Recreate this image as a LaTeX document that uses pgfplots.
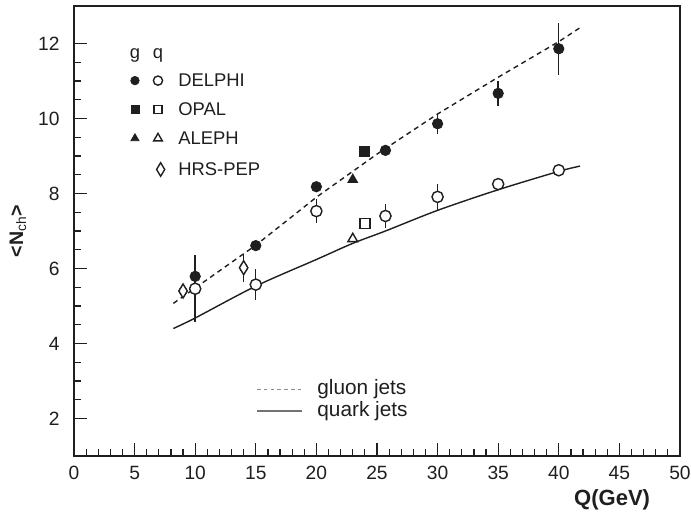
\documentclass[border=0pt]{standalone}
\usepackage{fontspec}
\setmainfont{Liberation Sans}
\usepackage{pgfplots}
\pgfplotsset{compat=1.18}
\definecolor{ink}{gray}{0.12}
\begin{document}
\begin{tikzpicture}
\begin{axis}[
  scale only axis, width=303pt, height=225pt,
  xmin=0, xmax=50, ymin=1, ymax=13,
  xtick={0,5,...,50}, ytick={2,4,...,12},
  minor x tick num=4, minor y tick num=3,
  tick align=inside, tick pos=left,
  major tick length=6.5pt, minor tick length=3.5pt,
  axis line style={line width=1.1pt, ink},
  every tick/.style={ink, line width=0.6pt},
  tick label style={font=\fontsize{9.6}{10}\selectfont, text=ink, inner sep=0pt},
  /pgf/number format/assume math mode=true,
  xticklabel style={yshift=-5pt},
  yticklabel style={xshift=-7pt},
  clip=false,
  xlabel={\textbf{Q(GeV)}},
  ylabel={\textbf{<N}\textsubscript{ch}\textbf{>}},
  xlabel style={at={(axis description cs:0.888,-0.098)}, anchor=center, inner sep=0pt, font=\fontsize{11}{12}\selectfont, text=ink},
  ylabel style={at={(axis description cs:-0.0924,0.5)}, anchor=center, inner sep=0pt, font=\fontsize{9.8}{10}\selectfont, text=ink},
  error bars/error bar style={line width=0.7pt, draw=ink},
]
% invisible frame for the page size
\path (axis description cs:-0.1221,-0.1467) rectangle (axis description cs:1.0182,1.0133);

% theory curves
\addplot[ink, line width=0.7pt, dash pattern=on 2.5pt off 2pt] coordinates {
 (8.2,5.07)(15,6.62)(20,7.9)(25,9.05)(30,10.12)(35,11.1)(40,12.05)(41.75,12.42)};
\addplot[ink, line width=0.7pt, smooth] coordinates {
 (8.2,4.4)(10,4.68)(15,5.53)(20,6.24)(23,6.67)(25.7,7.0)(30,7.55)(35,8.1)(40,8.59)(41.75,8.73)};

% error bars first (drawn under the marks)
\addplot[only marks, mark=none, error bars/.cd, y dir=both, y explicit, error mark=none] coordinates {
 (10,5.46) +- (0,0.9)
 (15,5.57) +- (0,0.42)
 (20,7.53) +- (0,0.33)
 (25.7,7.40) +- (0,0.32)
 (30,7.91) +- (0,0.35)
 (35,8.25) +- (0,0.0)
 (40,8.62) +- (0,0.1)};
\addplot[only marks, mark=none, error bars/.cd, y dir=both, y explicit, error mark=none] coordinates {
 (10,5.79) +- (0,0.55)
 (15,6.61) +- (0,0.0)
 (20,8.18) +- (0,0.0)
 (25.7,9.15) +- (0,0.0)
 (30,9.86) +- (0,0.27)
 (35,10.67) +- (0,0.34)
 (40,11.86) +- (0,0.69)};
\addplot[only marks, mark=none, error bars/.cd, y dir=both, y explicit, error mark=none] coordinates {
 (9,5.40) +- (0,0.0)
 (14,6.02) +- (0,0.37)};

% DELPHI quark (open circles)
\addplot[only marks, mark=*, mark size=2.8pt, mark options={fill=white, draw=ink, line width=0.7pt}] coordinates {
 (10,5.46) (15,5.57) (20,7.53) (25.7,7.40) (30,7.91) (35,8.25) (40,8.62)};
% DELPHI gluon (filled circles)
\addplot[only marks, mark=*, mark size=2.6pt, mark options={fill=ink, draw=ink}] coordinates {
 (10,5.79) (15,6.61) (20,8.18) (25.7,9.15) (30,9.86) (35,10.67) (40,11.86)};
% OPAL
\addplot[only marks, mark=square*, mark size=2.5pt, mark options={fill=ink, draw=ink}] coordinates {(24,9.12)};
\addplot[only marks, mark=square*, mark size=2.5pt, mark options={fill=white, draw=ink, line width=0.7pt}] coordinates {(24,7.2)};
% ALEPH
\addplot[only marks, mark=triangle*, mark size=2.8pt, mark options={fill=ink, draw=ink}] coordinates {(23,8.37)};
\addplot[only marks, mark=triangle*, mark size=2.8pt, mark options={fill=white, draw=ink, line width=0.7pt}] coordinates {(23,6.79)};
% HRS-PEP
\addplot[only marks, mark=diamond*, mark size=3.5pt, mark options={fill=white, draw=ink, line width=0.7pt, xscale=0.8}] coordinates {
 (9,5.40) (14,6.02)};

% legend (top left)
\node[anchor=mid, inner sep=0pt, font=\fontsize{9.2}{10}\selectfont, text=ink] at (axis cs:5.03,11.75) {g};
\node[anchor=mid, inner sep=0pt, font=\fontsize{9.2}{10}\selectfont, text=ink] at (axis cs:6.93,11.75) {q};
\addplot[only marks, mark=*, mark size=2.1pt, mark options={fill=ink, draw=ink}] coordinates {(5.03,11.01)};
\addplot[only marks, mark=*, mark size=2.3pt, mark options={fill=white, draw=ink, line width=0.7pt}] coordinates {(6.93,11.01)};
\addplot[only marks, mark=square*, mark size=2.0pt, mark options={fill=ink, draw=ink}] coordinates {(5.03,10.24)};
\addplot[only marks, mark=square*, mark size=2.0pt, mark options={fill=white, draw=ink, line width=0.7pt}] coordinates {(6.93,10.24)};
\addplot[only marks, mark=triangle*, mark size=2.3pt, mark options={fill=ink, draw=ink}] coordinates {(5.03,9.47)};
\addplot[only marks, mark=triangle*, mark size=2.5pt, mark options={fill=white, draw=ink, line width=0.7pt}] coordinates {(6.93,9.47)};
\addplot[only marks, mark=diamond*, mark size=3.4pt, mark options={fill=white, draw=ink, line width=0.7pt, xscale=0.8}] coordinates {(7.15,8.64)};
\node[anchor=west, inner sep=0pt, font=\fontsize{9.2}{10}\selectfont, text=ink] at (axis cs:8.58,11.01) {DELPHI};
\node[anchor=west, inner sep=0pt, font=\fontsize{9.2}{10}\selectfont, text=ink] at (axis cs:8.58,10.24) {OPAL};
\node[anchor=west, inner sep=0pt, font=\fontsize{9.2}{10}\selectfont, text=ink] at (axis cs:8.58,9.47) {ALEPH};
\node[anchor=west, inner sep=0pt, font=\fontsize{9.2}{10}\selectfont, text=ink] at (axis cs:8.58,8.64) {HRS-PEP};

% legend (curves)
\addplot[black!45, line width=0.8pt, dash pattern=on 1.8pt off 1.6pt] coordinates {(15.1,2.77)(18.8,2.77)};
\addplot[black!55, line width=0.9pt] coordinates {(15.1,2.19)(18.8,2.19)};
\node[anchor=west, inner sep=0pt, font=\fontsize{10.4}{11}\selectfont, text=ink] at (axis cs:20.05,2.77) {gluon jets};
\node[anchor=west, inner sep=0pt, font=\fontsize{10.4}{11}\selectfont, text=ink] at (axis cs:20.05,2.19) {quark jets};
\end{axis}
\end{tikzpicture}
\end{document}
